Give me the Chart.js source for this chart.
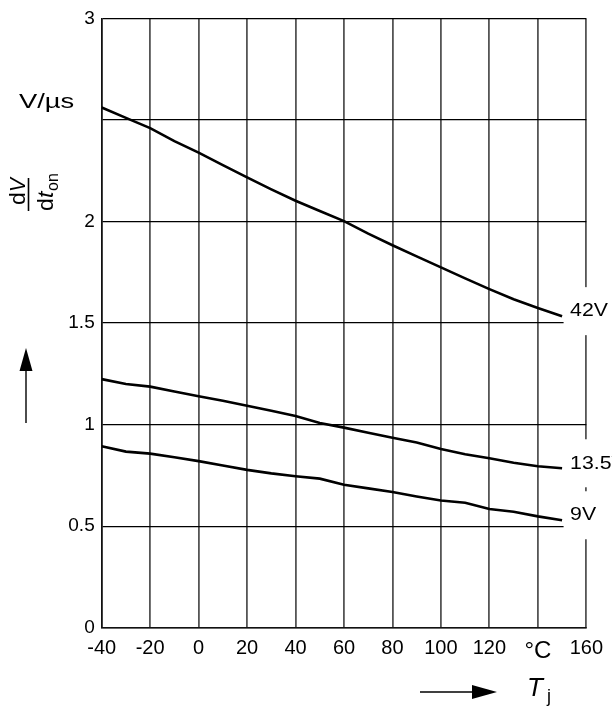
<!DOCTYPE html>
<html>
<head>
<meta charset="utf-8">
<script src="https://cdn.jsdelivr.net/npm/chart.js@4.4.0/dist/chart.umd.min.js"></script>
<style>
  html, body { margin: 0; padding: 0; background: #fff; }
  #box { width: 612px; height: 707px; }
</style>
</head>
<body>
<div id="box"><canvas id="grafico" width="612" height="707"></canvas></div>
<script>
// dV/dt_on vs. junction temperature

const temps = [-40, -30, -20, -10, 0, 10, 20, 30, 40, 50, 60, 70, 80, 90, 100, 110, 120, 130, 140, 150];
const v42 = [2.561, 2.51, 2.46, 2.396, 2.339, 2.278, 2.217, 2.158, 2.102, 2.052, 2.002, 1.94, 1.883, 1.828, 1.774, 1.72, 1.667, 1.617, 1.574, 1.534];
const v13_5 = [1.224, 1.2, 1.187, 1.163, 1.14, 1.117, 1.093, 1.068, 1.042, 1.008, 0.985, 0.96, 0.935, 0.912, 0.88, 0.854, 0.834, 0.812, 0.795, 0.785];
const v9 = [0.893, 0.867, 0.857, 0.839, 0.82, 0.799, 0.777, 0.76, 0.746, 0.734, 0.704, 0.686, 0.668, 0.646, 0.626, 0.615, 0.584, 0.571, 0.548, 0.529];
const nomes = ["42V", "13.5V", "9V"];

const xTicks = [-40, -20, 0, 20, 40, 60, 80, 100, 120, 140, 160];
const yTicks = [0, 0.5, 1, 1.5, 2, 2.5, 3];

const FONTE = "'Liberation Sans', Arial, sans-serif";
const series = [v42, v13_5, v9];

function pontos(valores) {
  return temps.map((t, i) => ({ x: t, y: valores[i] }));
}

// texto um pouco esticado na horizontal, como no original
function texto(ctx, str, x, y, fonte, esticar) {
  ctx.save();
  ctx.translate(x, y);
  ctx.scale(esticar, 1);
  ctx.font = fonte;
  ctx.fillText(str, 0, 0);
  ctx.restore();
}

// rotulos das curvas, com fundo branco cortando a grade
const rotulosPlugin = {
  id: "rotulos",
  afterDatasetsDraw(chart) {
    const ctx = chart.ctx;
    const sx = chart.scales.x;
    const sy = chart.scales.y;
    ctx.save();
    series.forEach((s, i) => {
      const px = sx.getPixelForValue(temps[temps.length - 1]);
      const py = sy.getPixelForValue(s[s.length - 1]) - 5;
      ctx.fillStyle = "#fff";
      ctx.fillRect(px + 1.5, py - 24, 60, 48);
      ctx.fillStyle = "#000";
      ctx.textBaseline = "middle";
      ctx.textAlign = "left";
      texto(ctx, nomes[i], px + 8, py, "19px " + FONTE, 1.12);
    });
    ctx.restore();
  },
  afterDraw(chart) {
    const ctx = chart.ctx;
    ctx.save();
    ctx.fillStyle = "#000";
    ctx.strokeStyle = "#000";
    ctx.textBaseline = "alphabetic";
    ctx.textAlign = "left";

    // unidade
    texto(ctx, "V/µs", 19, 108, "21px " + FONTE, 1.3);

    // dV/dt_on girado
    ctx.save();
    ctx.translate(28.5, 211);
    ctx.rotate(-Math.PI / 2);
    ctx.lineWidth = 1.6;
    ctx.beginPath();
    ctx.moveTo(0, 0);
    ctx.lineTo(33, 0);
    ctx.stroke();
    texto(ctx, "d", 6, -3.5, "22px " + FONTE, 1.05);
    texto(ctx, "V", 19, -3.5, "italic 22px " + FONTE, 0.95);
    texto(ctx, "d", 0, 24, "22px " + FONTE, 1.05);
    texto(ctx, "t", 13, 24, "italic 22px " + FONTE, 1.05);
    texto(ctx, "on", 20, 29, "16px " + FONTE, 1.0);
    ctx.restore();

    // seta vertical
    ctx.lineWidth = 1.4;
    ctx.beginPath();
    ctx.moveTo(26, 423);
    ctx.lineTo(26, 360);
    ctx.stroke();
    ctx.beginPath();
    ctx.moveTo(26, 348);
    ctx.lineTo(19.5, 371);
    ctx.lineTo(32.5, 371);
    ctx.closePath();
    ctx.fill();

    // seta horizontal
    ctx.beginPath();
    ctx.moveTo(420, 692);
    ctx.lineTo(480, 692);
    ctx.stroke();
    ctx.beginPath();
    ctx.moveTo(497, 692);
    ctx.lineTo(472, 685);
    ctx.lineTo(472, 699);
    ctx.closePath();
    ctx.fill();

    // T_j
    texto(ctx, "T", 527, 696, "italic 26px " + FONTE, 1.0);
    texto(ctx, "j", 547, 702, "18px " + FONTE, 1.0);
    ctx.restore();
  }
};

const ctx = document.getElementById("grafico").getContext("2d");

window.graficoChart = new Chart(ctx, {
  type: "line",
  data: {
    datasets: series.map((s, i) => ({
      label: nomes[i],
      data: pontos(s),
      borderColor: "#000",
      borderWidth: 2.6,
      pointRadius: 0,
      tension: 0,
      fill: false
    }))
  },
  options: {
    responsive: false,
    animation: false,
    devicePixelRatio: 1,
    layout: { padding: { top: 12.7, right: 19.5, left: 0, bottom: 0 } },
    plugins: {
      legend: { display: false },
      tooltip: { enabled: false }
    },
    scales: {
      x: {
        type: "linear",
        min: xTicks[0],
        max: xTicks[xTicks.length - 1],
        afterBuildTicks: (scale) => { scale.ticks = xTicks.map(v => ({ value: v })); },
        afterFit: (scale) => { scale.height = 79.3; },
        ticks: {
          color: "#000",
          padding: 9,
          maxRotation: 0,
          autoSkip: false,
          font: (c) => c.tick && c.tick.value === 140
            ? { family: FONTE, size: 24 }
            : { family: FONTE, size: 20 },
          callback: (v) => v === 140 ? "°C" : String(v)
        },
        grid: { color: "#555", lineWidth: 1.8, drawTicks: false },
        border: { color: "#111", width: 1.5 }
      },
      y: {
        min: yTicks[0],
        max: yTicks[yTicks.length - 1],
        afterBuildTicks: (scale) => { scale.ticks = yTicks.map(v => ({ value: v })); },
        afterFit: (scale) => { scale.width = 101.7; },
        ticks: {
          color: "#000",
          padding: 7,
          autoSkip: false,
          font: { family: FONTE, size: 19 },
          callback: (v) => v === 2.5 ? "" : String(v)
        },
        grid: { color: "#000", lineWidth: 1.3, drawTicks: false },
        border: { color: "#111", width: 1.5 }
      }
    }
  },
  plugins: [rotulosPlugin]
});
</script>
</body>
</html>
